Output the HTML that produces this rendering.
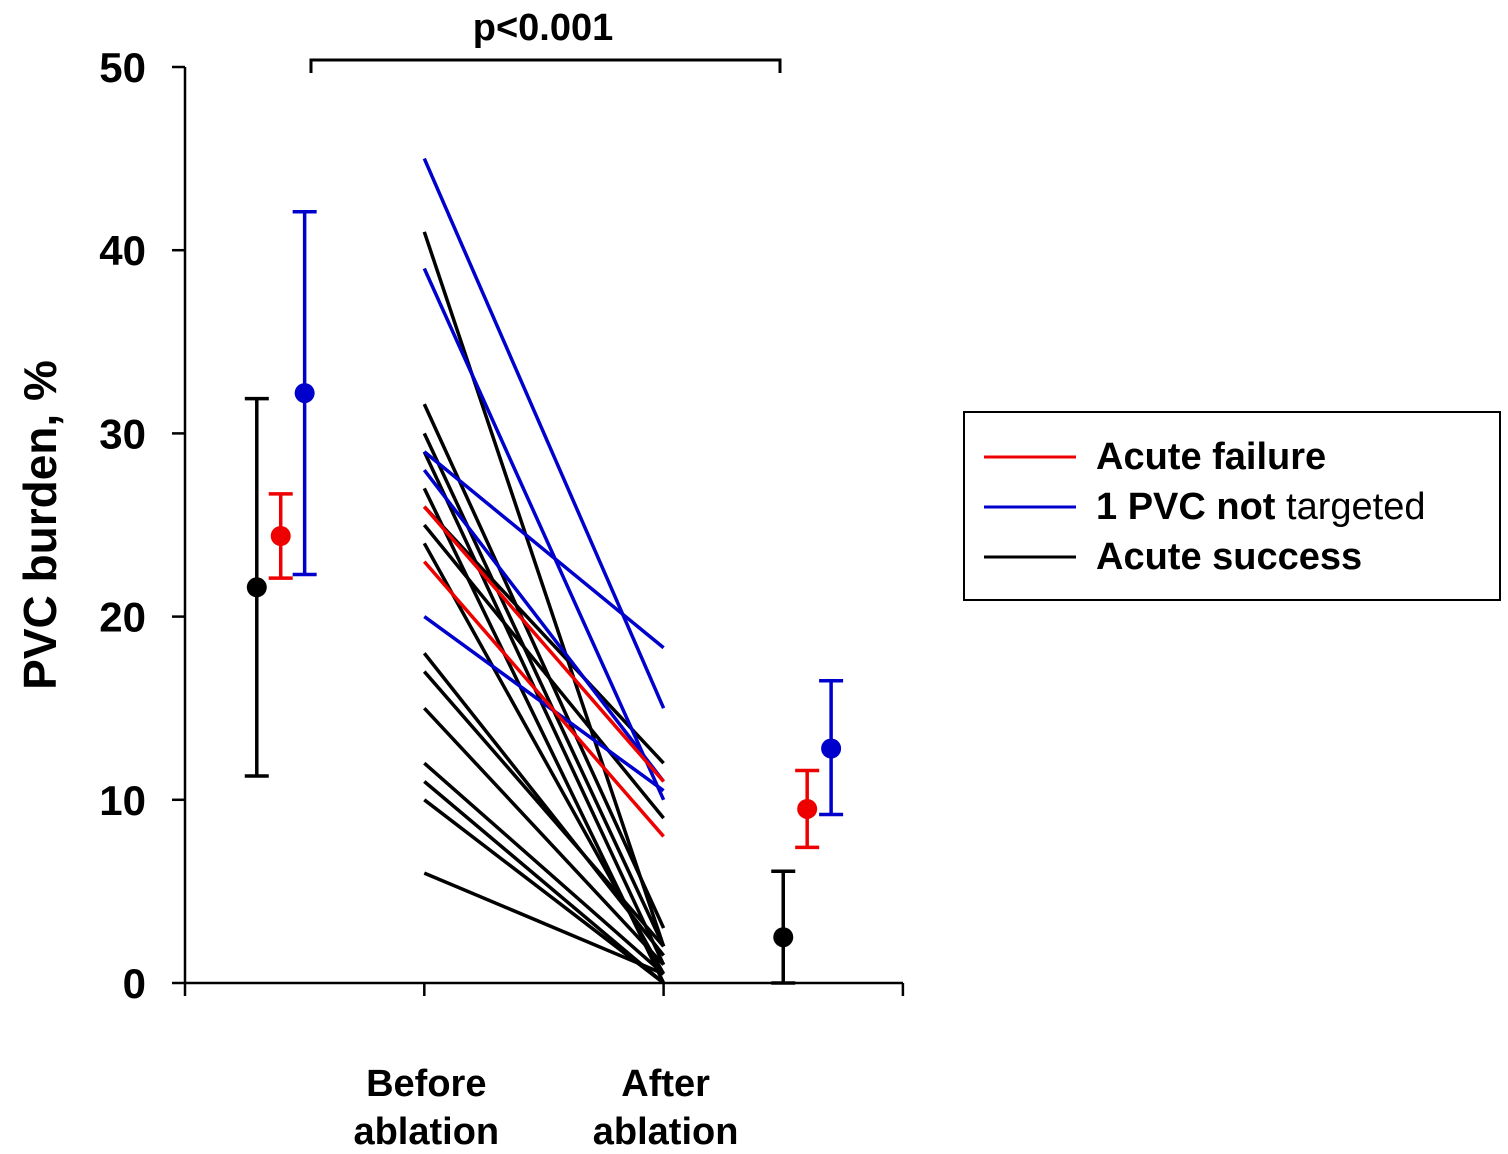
<!DOCTYPE html>
<html><head><meta charset="utf-8"><style>
body{margin:0;background:#fff;}
svg text{font-family:"Liberation Sans",Arial,sans-serif;font-weight:bold;}
</style></head><body>
<svg width="1508" height="1149">
<g id="plot"></g>
<g>
<rect x="964" y="412" width="536" height="188" fill="#fff" stroke="#000" stroke-width="2"/>
<line x1="984" y1="457" x2="1076" y2="457" stroke="#e00" stroke-width="3"/>
<text x="1096" y="469" font-size="38">Acute failure</text>
<line x1="984" y1="507" x2="1076" y2="507" stroke="#00c" stroke-width="3"/>
<text x="1096" y="519" font-size="38">1 PVC not <tspan font-weight="normal">targeted</tspan></text>
<line x1="984" y1="557" x2="1076" y2="557" stroke="#000" stroke-width="3"/>
<text x="1096" y="569" font-size="38">Acute success</text>
</g>
</svg>
<script>
const yTicks=[0,10,20,30,40,50];
const xCatLabels=[["Before","ablation"],["After","ablation"]];
const blackBefore=[41,31.6,30,29,26,25,24,18,17,15,12,11,10,6,27];
const blackAfter=[2,3,2,1,12,9,0.5,1.5,2,1,0.5,0,0,0.5,0];
const redBefore=[23,26];
const redAfter=[8,11];
const blueBefore=[45,39,29,28,20];
const blueAfter=[15,10,18.3,11,10.5];
const meanPos=[0.3,0.4,0.5,2.5,2.6,2.7];
const meanVal=[21.6,24.4,32.2,2.5,9.5,12.8];
const meanLo=[11.3,22.1,22.3,0,7.4,9.2];
const meanHi=[31.9,26.7,42.1,6.1,11.6,16.5];
const meanCol=["#000","#e00","#00c","#000","#e00","#00c"];
const NS="http://www.w3.org/2000/svg";
const g=document.getElementById('plot');
const X=v=>185+v*239.3, Y=v=>983-v*18.32;
function el(t,a,txt){const e=document.createElementNS(NS,t);for(const k in a)e.setAttribute(k,a[k]);if(txt!==undefined)e.textContent=txt;g.appendChild(e);return e;}
let e;
e=el('line',{x1:185,y1:Y(50),x2:185,y2:983,stroke:'#000','stroke-width':2.5});


e=el('line',{x1:185,y1:983,x2:903,y2:983,stroke:'#000','stroke-width':2.5});


yTicks.forEach(t=>{
el('line',{x1:172,y1:Y(t),x2:185,y2:Y(t),stroke:'#000','stroke-width':2.5});
e=el('text',{x:146,y:Y(t)+15,'font-size':42,'text-anchor':'end'},t);


});
[0,1,2,3].forEach(i=>el('line',{x1:X(i),y1:983,x2:X(i),y2:996,stroke:'#000','stroke-width':2.5}));
xCatLabels.forEach((l,i)=>{
e=el('text',{x:X(i+1)+2,y:1096,'font-size':38,'text-anchor':'middle'},l[0]);


el('text',{x:X(i+1)+2,y:1144,'font-size':38,'text-anchor':'middle'},l[1]);
});
e=el('text',{x:0,y:0,'font-size':46,'text-anchor':'middle',transform:'translate(56,525) rotate(-90)'},'PVC burden, %');


function lines(b,a,c,name){b.forEach((v,i)=>{
e=el('line',{x1:X(1),y1:Y(v),x2:X(2),y2:Y(a[i]),stroke:c,'stroke-width':3.5});

});}
lines(blackBefore,blackAfter,'#000','success-line');
lines(blueBefore,blueAfter,'#00c','not-targeted-line');
lines(redBefore,redAfter,'#e00','failure-line');
meanPos.forEach((p,i)=>{
const x=X(p),c=meanCol[i];
el('line',{x1:x,y1:Y(meanLo[i]),x2:x,y2:Y(meanHi[i]),stroke:c,'stroke-width':3.5});
el('line',{x1:x-12,y1:Y(meanLo[i]),x2:x+12,y2:Y(meanLo[i]),stroke:c,'stroke-width':3.5});
el('line',{x1:x-12,y1:Y(meanHi[i]),x2:x+12,y2:Y(meanHi[i]),stroke:c,'stroke-width':3.5});
e=el('circle',{cx:x,cy:Y(meanVal[i]),r:10,fill:c});


});
el('polyline',{points:'311,73 311,60 780,60 780,73',fill:'none',stroke:'#000','stroke-width':3});
e=el('text',{x:543,y:40,'font-size':38,'text-anchor':'middle'},'p<0.001');


</script>
</body></html>
